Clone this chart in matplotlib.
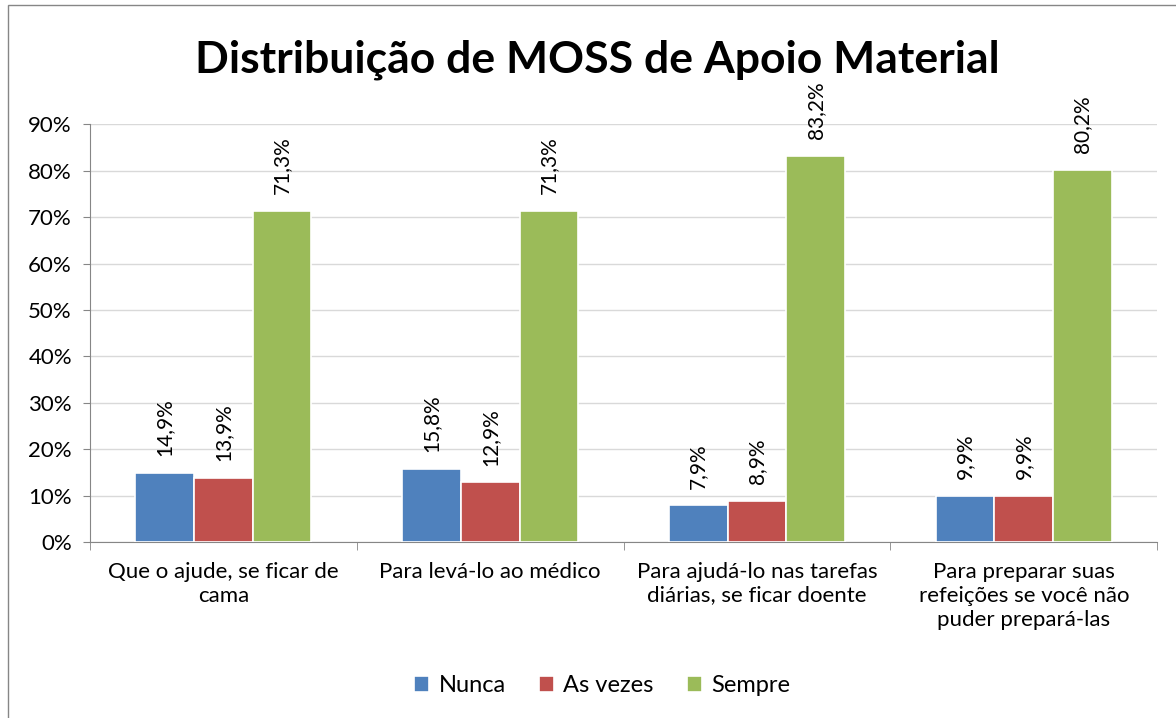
import matplotlib.pyplot as plt
import numpy as np
from matplotlib.patches import Rectangle

# data
categories = ["Que o ajude, se ficar de\ncama",
              "Para levá-lo ao médico",
              "Para ajudá-lo nas tarefas\ndiárias, se ficar doente",
              "Para preparar suas\nrefeições se você não\npuder prepará-las"]
series_names = ["Nunca", "As vezes", "Sempre"]
nunca = [14.9, 15.8, 7.9, 9.9]
as_vezes = [13.9, 12.9, 8.9, 9.9]
sempre = [71.3, 71.3, 83.2, 80.2]
colors = ["#4F81BD", "#C0504D", "#9BBB59"]

plt.rcParams['font.family'] = ['Lato', 'DejaVu Sans']

fig = plt.figure(figsize=(11.76, 7.18), dpi=100)
ax = fig.add_axes([0.0765, 0.245, 0.9075, 0.582])

x = np.arange(len(categories))
w = 0.22
for i, (vals, name) in enumerate(zip([nunca, as_vezes, sempre], series_names)):
    bars = ax.bar(x + (i - 1) * w, vals, w, color=colors[i], edgecolor="white",
                  linewidth=1.2, label=name, zorder=3)
    for b, v in zip(bars, vals):
        ax.annotate(f"{v:.1f}%".replace(".", ","),
                    (b.get_x() + b.get_width() / 2, b.get_height()),
                    xytext=(0, 12), textcoords="offset points",
                    rotation=90, ha="center", va="bottom", fontsize=15)

ax.set_xlim(-0.5, len(categories) - 0.5)
ax.set_ylim(0, 90)
ax.set_yticks(np.arange(0, 91, 10))
ax.set_yticklabels([f"{t}%" for t in range(0, 91, 10)], fontsize=16)
ax.yaxis.grid(True, color="#d9d9d9", linewidth=1, zorder=0)

ax.set_xticks(x)
ax.set_xticklabels(categories, fontsize=16, linespacing=1.25)
ax.set_xticks(np.arange(-0.5, len(categories), 1), minor=True)
ax.tick_params(axis="x", which="major", length=0, pad=14)
ax.tick_params(axis="x", which="minor", length=6, color="#868686", direction="out")
ax.tick_params(axis="y", length=5, color="#868686", pad=8)

for s in ["top", "right"]:
    ax.spines[s].set_visible(False)
for s in ["left", "bottom"]:
    ax.spines[s].set_color("#868686")

fig.suptitle("Distribuição de MOSS de Apoio Material", fontsize=32,
             fontweight="bold", x=0.508, y=0.945)

fig.legend(loc="center", bbox_to_anchor=(0.512, 0.045), ncol=3, frameon=False,
           fontsize=17, handlelength=0.65, handleheight=0.65, handletextpad=0.4,
           columnspacing=1.4)

fig.patches.append(Rectangle((0.007, -0.01), 1.5, 1.003, transform=fig.transFigure,
                             fill=False, edgecolor="#868686", linewidth=1))

fig.savefig("out.png", dpi=100)
